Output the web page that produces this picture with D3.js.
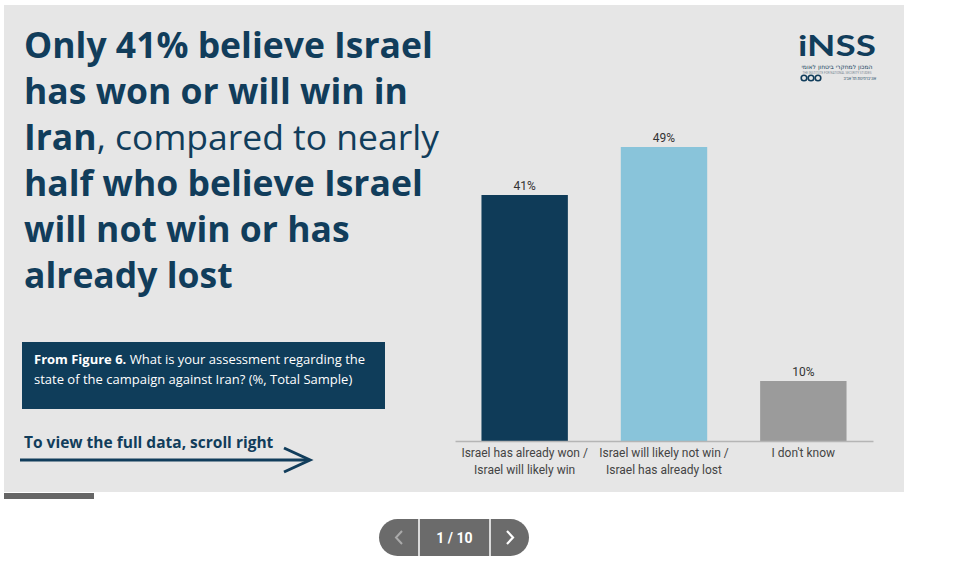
<!DOCTYPE html>
<html><head><meta charset="utf-8">
<script src="https://cdn.jsdelivr.net/npm/d3@7"></script>
<style>
html,body{margin:0;padding:0;background:#fff;}
svg{display:block;font-family:Roboto,"Open Sans",sans-serif;}
</style></head>
<body>
<svg id="c" width="960" height="564"></svg>
<script>
const categories = [
  ["Israel has already won /", "Israel will likely win"],
  ["Israel will likely not win /", "Israel has already lost"],
  ["I don't know"]
];
const values = [41, 49, 10];
const valueLabels = ["41%", "49%", "10%"];
const barColors = ["#0f3b58", "#89c4da", "#9b9b9b"];
const titleLines = [
  [{t:"Only 41% believe Israel", b:true}],
  [{t:"has won or will win in", b:true}],
  [{t:"Iran", b:true}, {t:", compared to nearly", b:false}],
  [{t:"half who believe Israel", b:true}],
  [{t:"will not win or has", b:true}],
  [{t:"already lost", b:true}]
];
const navy = "#113d5b";

const svg = d3.select("#c");
// panel
svg.append("rect").attr("x",4).attr("y",5).attr("width",900).attr("height",487).attr("fill","#e6e6e6");
svg.append("rect").attr("x",4).attr("y",493).attr("width",90).attr("height",6).attr("fill","#666");

// title
const title = svg.append("text").attr("x",25).attr("fill",navy).attr("font-size",35.5)
  .style("font-family","'Open Sans',sans-serif");
titleLines.forEach((line,i)=>{
  line.forEach((seg,j)=>{
    const ts = title.append("tspan").text(seg.t)
      .attr("font-weight", seg.b?700:400);
    if(j===0) ts.attr("x",24).attr("y",58+i*46);
  });
});

// info box
svg.append("rect").attr("x",22).attr("y",342).attr("width",363).attr("height",67).attr("fill","#0f3d5a");
const info = svg.append("text").attr("fill","#fff").attr("font-size",13).style("font-family","'Open Sans',sans-serif");
info.append("tspan").attr("x",34).attr("y",364).attr("font-weight",700).text("From Figure 6.");
info.append("tspan").text(" What is your assessment regarding the");
info.append("tspan").attr("x",34).attr("y",384).text("state of the campaign against Iran? (%, Total Sample)");

// scroll hint
svg.append("text").attr("x",24).attr("y",448).attr("fill",navy).attr("font-size",15.5).attr("font-weight",700)
  .style("font-family","'Open Sans',sans-serif")
  .text("To view the full data, scroll right");
svg.append("line").attr("x1",20).attr("x2",308).attr("y1",460).attr("y2",460).attr("stroke",navy).attr("stroke-width",3);
svg.append("path").attr("d","M284,448 L310,460 L284,472").attr("fill","none").attr("stroke",navy).attr("stroke-width",3);

// chart
const x = d3.scaleBand().domain(d3.range(values.length)).range([455,873]).paddingInner(0.38).paddingOuter(0.19);
const y = d3.scaleLinear().domain([0,49]).range([441,147]);

svg.selectAll("rect.bar").data(values).join("rect").attr("class","bar")
  .attr("x",(d,i)=>x(i)).attr("width",x.bandwidth())
  .attr("y",d=>y(d)).attr("height",d=>y(0)-y(d))
  .attr("fill",(d,i)=>barColors[i]);

svg.selectAll("text.val").data(values).join("text").attr("class","val")
  .attr("x",(d,i)=>x(i)+x.bandwidth()/2).attr("y",d=>y(d)-5)
  .attr("text-anchor","middle").attr("font-size",12).attr("fill","#333")
  .text((d,i)=>valueLabels[i]);

const ax = svg.append("g").attr("transform",`translate(0,${y(0)})`)
  .call(d3.axisBottom(x).tickSize(0).tickFormat(""));
ax.select(".domain").attr("stroke","#b5b5b5").attr("stroke-width",1.5);
ax.selectAll(".tick").each(function(d){
  const t = d3.select(this).append("text").attr("fill","#444").attr("font-size",12).attr("text-anchor","middle")
    .style("font-family","Roboto,sans-serif");
  categories[d].forEach((l,k)=>t.append("tspan").attr("x",0).attr("y",16+k*17).text(l));
});

// logo
const logo = svg.append("g");
logo.append("text").attr("x",798).attr("y",56).attr("fill",navy).style("font-family","Lato,sans-serif")
  .attr("font-size",29).attr("font-weight",700).attr("textLength",78).attr("lengthAdjust","spacingAndGlyphs").text("iNSS");
logo.append("text").attr("x",837).attr("y",69).attr("text-anchor","middle").attr("fill",navy)
  .attr("font-size",6).attr("font-family","DejaVu Sans").text("המכון למחקרי ביטחון לאומי");
logo.append("text").attr("x",837).attr("y",73.5).attr("text-anchor","middle").attr("fill","#7a8a95")
  .attr("font-size",3).text("THE INSTITUTE FOR NATIONAL SECURITY STUDIES");
[804,811,818].forEach(cx=>logo.append("circle").attr("cx",cx).attr("cy",78).attr("r",2.8)
  .attr("fill","none").attr("stroke",navy).attr("stroke-width",1.6));
logo.append("text").attr("x",876).attr("y",80).attr("text-anchor","end").attr("fill",navy)
  .attr("font-size",4).text("אוניברסיטת תל אביב");

// pagination
const pg = svg.append("g");
const pw=150, ph=37, px=379, py=519;
pg.append("rect").attr("x",px).attr("y",py).attr("width",pw).attr("height",ph).attr("rx",18.5).attr("fill","#6b6b6b");
[419,490].forEach(lx=>pg.append("line").attr("x1",lx).attr("x2",lx).attr("y1",py).attr("y2",py+ph).attr("stroke","#fff").attr("stroke-width",1.5));
pg.append("path").attr("d","M402,531 L396,537.5 L402,544").attr("fill","none").attr("stroke","#aaa").attr("stroke-width",2);
pg.append("path").attr("d","M507,531 L513,537.5 L507,544").attr("fill","none").attr("stroke","#fff").attr("stroke-width",2.2);
pg.append("text").attr("x",454.5).attr("y",543).attr("text-anchor","middle").attr("fill","#fff")
  .attr("font-size",14).attr("font-weight",700).text("1 / 10");
</script>
</body></html>
